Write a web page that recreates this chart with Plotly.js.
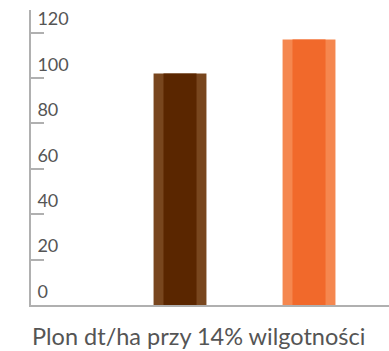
<!DOCTYPE html>
<html><head><meta charset="utf-8">
<script src="https://cdn.plot.ly/plotly-3.0.1.min.js"></script>
<style>html,body{margin:0;padding:0;background:#fff}#chart{width:389px;height:351px}</style>
</head><body><div id="chart"></div>
<script>
const categories = ["A", "B"];
const values = [102, 117];
const outerColors = ["#78461e", "#f5874f"];
const innerColors = ["#5a2600", "#f1692b"];
const yTicks = [0, 20, 40, 60, 80, 100, 120];
const xTitle = "Plon dt/ha przy 14% wilgotności";

const traces = [
  {type: "bar", x: categories, y: values, width: 0.41, marker: {color: outerColors}, hoverinfo: "none"},
  {type: "bar", x: categories, y: values, width: 0.256, marker: {color: innerColors}, hoverinfo: "none"}
];
const layout = {
  width: 389, height: 351,
  margin: {l: 31, r: 0, t: 10, b: 46},
  barmode: "overlay",
  showlegend: false,
  paper_bgcolor: "#fff", plot_bgcolor: "#fff",
  font: {family: "Lato", color: "#555"},
  xaxis: {
    type: "category", range: [-1.155, 1.62],
    showticklabels: false, ticks: "", showgrid: false, zeroline: false,
    showline: true, linecolor: "#b0b0b0", linewidth: 2
  },
  yaxis: {
    range: [0, 130], tickvals: yTicks, ticktext: yTicks.map(String),
    ticks: "inside", ticklen: 13, tickwidth: 2, tickcolor: "#b0b0b0",
    ticklabelposition: "inside top",
    ticklabeloverflow: "allow",
    ticklabelstandoff: 6,
    tickfont: {size: 18, color: "#555"},
    showgrid: false, zeroline: false,
    showline: true, linecolor: "#b0b0b0", linewidth: 2
  },
  annotations: [{
    text: xTitle, xref: "paper", yref: "paper", x: 0.468, y: -0.105,
    xanchor: "center", yanchor: "middle", showarrow: false, borderpad: 0,
    font: {family: "Lato", size: 23.5, color: "#555"}
  }]
};
Plotly.newPlot("chart", traces, layout, {staticPlot: true, displayModeBar: false});
</script></body></html>
